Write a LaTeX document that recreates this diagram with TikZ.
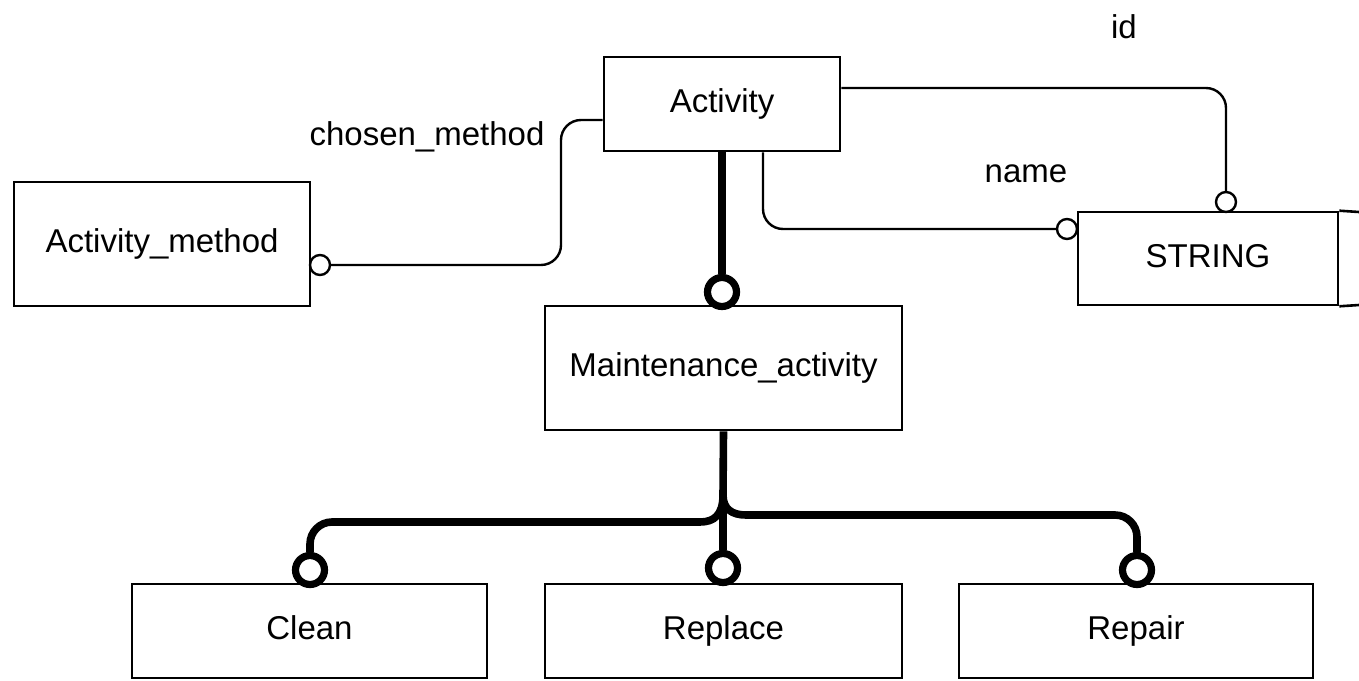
\documentclass[tikz,border=0pt]{standalone}
\usepackage{fontspec}
\setmainfont{Liberation Sans}
\begin{document}
\begin{tikzpicture}[x=0.5pt,y=-0.5pt,
  every node/.style={font=\fontsize{16.5pt}{20pt}\selectfont},
  ent/.style={draw,line width=1.3pt,inner sep=0pt,text height=12pt,text depth=3.5pt},
  lbl/.style={inner sep=0pt},
  rel/.style={line width=1.2pt,rounded corners=10pt},
  oc/.style={draw,circle,line width=1.2pt,minimum size=10pt,inner sep=0pt,fill=white},
  tc/.style={draw,circle,line width=3.6pt,minimum size=14.5pt,inner sep=0pt,fill=white},
  sub/.style={line width=3.8pt}]
\useasboundingbox (0,0) rectangle (1359,680);
% entities
\node[ent,minimum width=118pt,minimum height=47pt] (act) at (722,104) {Activity};
\node[ent,minimum width=148pt,minimum height=62pt] (am) at (162,244) {Activity\_method};
\node[ent,minimum width=130pt,minimum height=46.5pt] (str) at (1208,258.5) {STRING};
\draw[line width=1.3pt] (str.north east) -- (1359,212) (str.south east) -- (1359,305);
\node[ent,minimum width=178.5pt,minimum height=62pt] (ma) at (723.5,368) {Maintenance\_activity};
\node[ent,minimum width=177.5pt,minimum height=47pt] (cl) at (309.5,631) {Clean};
\node[ent,minimum width=178.5pt,minimum height=47pt] (rp) at (723.5,631) {Replace};
\node[ent,minimum width=177pt,minimum height=47pt] (ra) at (1136,631) {Repair};
% labels
\node[lbl] (lid) at (1124,27) {id};
\node[lbl] (lname) at (1026,174) {name};
\node[lbl] (lcm) at (427,137) {chosen\_method};
% circles
\node[oc] (ccm) at (320,265) {};
\node[oc] (cid) at (1226,202) {};
\node[oc] (cname) at (1067,229) {};
\node[tc] (cma) at (722,292) {};
\node[tc] (ccl) at (310,570) {};
\node[tc] (crp) at (723,568) {};
\node[tc] (cra) at (1137,570) {};
% relations
\draw[rel] ([yshift=-8pt]act.west) -- (561,120) -- (561,265) -- (ccm.east);
\draw[rel] ([yshift=8pt]act.east) -- (1226,88) -- (cid.north);
\draw[rel] ([xshift=20.5pt]act.south) |- (cname.west);
\draw[sub] (act.south) -- (cma.north);
% subtype tree
\coordinate (j) at (723,495);
\draw[sub] (ma.south) -- (j);
\draw[sub] (j) -- (crp.north);
\draw[sub] (j) .. controls (723,515) and (714,522) .. (700,522)
  [rounded corners=11pt] -- (310,522) -- (ccl.north);
\draw[sub] (j) .. controls (723,509) and (732,515) .. (746,515)
  [rounded corners=11pt] -- (1137,515) -- (cra.north);
\end{tikzpicture}
\end{document}
